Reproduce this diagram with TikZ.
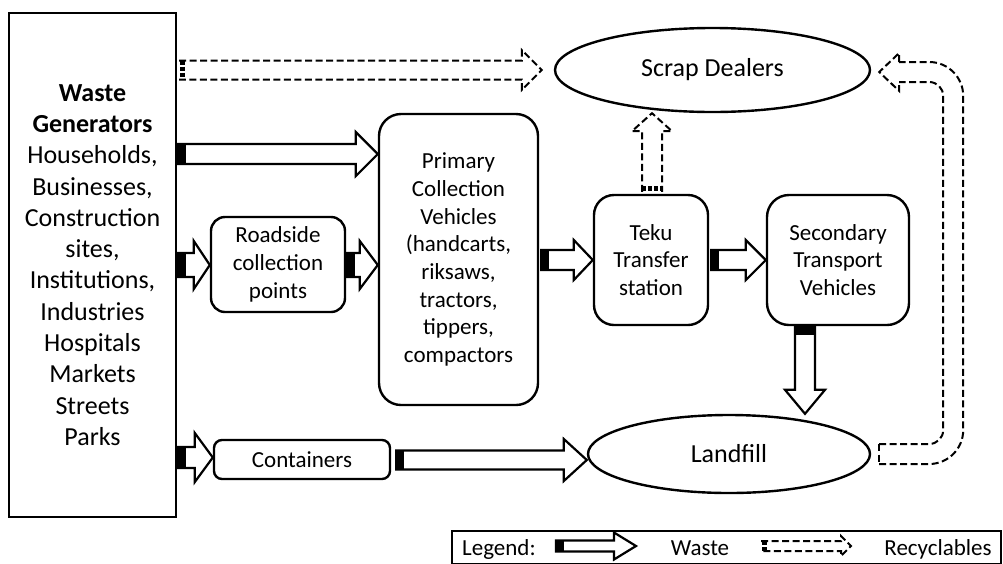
\documentclass[tikz,border=0pt]{standalone}
\usepackage{fontspec}
\setmainfont{Carlito}
\usetikzlibrary{calc,shapes.geometric}
\newcommand\wasteH[5]{%
 \draw[wa] let \p1=(#1), \p2=(#2) in (\x1,\y1+#3pt) -- (\x2-#5pt,\y1+#3pt) -- (\x2-#5pt,\y1+#4pt) -- (\x2,\y1) -- (\x2-#5pt,\y1-#4pt) -- (\x2-#5pt,\y1-#3pt) -- (\x1,\y1-#3pt) -- cycle;
 \fill let \p1=(#1) in (\x1,\y1-#3pt) rectangle (\x1+8pt,\y1+#3pt);}
\newcommand\wasteV[5]{%
 \draw[wa] let \p1=(#1), \p2=(#2) in (\x1-#3pt,\y1) -- (\x1-#3pt,\y2+#5pt) -- (\x1-#4pt,\y2+#5pt) -- (\x1,\y2) -- (\x1+#4pt,\y2+#5pt) -- (\x1+#3pt,\y2+#5pt) -- (\x1+#3pt,\y1) -- cycle;
 \fill let \p1=(#1) in (\x1-#3pt,\y1) rectangle (\x1+#3pt,\y1-8pt);}
\newcommand\recH[5]{%
 \draw[rc] let \p1=(#1), \p2=(#2) in (\x1,\y1+#3pt) -- (\x2-#5pt,\y1+#3pt) -- (\x2-#5pt,\y1+#4pt) -- (\x2,\y1) -- (\x2-#5pt,\y1-#4pt) -- (\x2-#5pt,\y1-#3pt) -- (\x1,\y1-#3pt);
 \draw[line width=5pt,dash pattern=on 4pt off 2pt] let \p1=(#1) in (\x1+3pt,\y1+#3pt) -- (\x1+3pt,\y1-#3pt);}
\newcommand\recU[5]{%
 \draw[rc] let \p1=(#1), \p2=(#2) in (\x1-#3pt,\y1) -- (\x1-#3pt,\y2-#5pt) -- (\x1-#4pt,\y2-#5pt) -- (\x1,\y2) -- (\x1+#4pt,\y2-#5pt) -- (\x1+#3pt,\y2-#5pt) -- (\x1+#3pt,\y1);
 \draw[line width=5pt,dash pattern=on 4pt off 2pt] let \p1=(#1) in (\x1-#3pt,\y1+3pt) -- (\x1+#3pt,\y1+3pt);}
\begin{document}
\begin{tikzpicture}[x=1pt,y=-1pt,
  box/.style={draw,line width=2.4pt,inner sep=0pt,align=center},
  rbox/.style={box,rounded corners=#1},
  ell/.style={draw,ellipse,line width=2.4pt,inner sep=0pt},
  wa/.style={draw,line width=2.2pt,fill=white,line join=miter},
  rc/.style={draw,line width=2pt,dash pattern=on 7pt off 3.5pt},
  big/.style={font=\fontsize{26}{31.3}\selectfont},
  mid/.style={font=\fontsize{23}{27.7}\selectfont},
  legtext/.style={mid,anchor=base,inner sep=0pt},
  ]
\useasboundingbox (0,0) rectangle (1003,563);
% nodes
\node[box,big,minimum width=167pt,minimum height=504pt] (gen) at (92.5,265)
 {\textbf{Waste}\\\textbf{Generators}\\Households,\\Businesses,\\Construction\\sites,\\Institutions,\\Industries\\Hospitals\\Markets\\Streets\\Parks};
\node[rbox=22pt,mid,minimum width=159pt,minimum height=291pt] (prim) at (458.5,259.5)
 {Primary\\Collection\\Vehicles\\(handcarts,\\riksaws,\\tractors,\\tippers,\\compactors};
\node[rbox=14pt,mid,minimum width=134pt,minimum height=95pt] (road) at (278,264.5)
 {Roadside\\collection\\points};
\node[rbox=20pt,mid,minimum width=114pt,minimum height=130pt] (teku) at (651,260)
 {Teku\\Transfer\\station};
\node[rbox=22pt,mid,minimum width=142pt,minimum height=130pt] (sec) at (838,260)
 {Secondary\\Transport\\Vehicles};
\node[rbox=8pt,mid,minimum width=176pt,minimum height=39pt] (cont) at (302,459.5)
 {Containers};
\node[ell,big,minimum width=315pt,minimum height=84pt] (scrap) at (712.5,70) {Scrap Dealers};
\node[ell,big,minimum width=282pt,minimum height=78pt] (land) at (729,454) {Landfill};
% waste arrows
\wasteH{$(gen.east|-0,154)+(1,0)$}{prim.west|-0,154}{10}{22}{22}
\wasteH{$(gen.east|-0,265)+(1,0)$}{road.west|-0,265}{12}{24}{16}
\wasteH{$(road.east|-0,265)+(1,0)$}{prim.west|-0,265}{12}{24}{18}
\wasteH{$(gen.east|-0,457.5)+(1,0)$}{cont.west|-0,457.5}{10.5}{24.5}{18}
\wasteH{$(prim.east|-0,260)+(2,0)$}{teku.west|-0,260}{10}{20}{19}
\wasteH{$(teku.east|-0,260)+(2,0)$}{sec.west|-0,260}{10}{20}{20}
\wasteH{$(cont.east|-0,460)+(5,0)$}{land.west|-0,460}{9.5}{21}{23}
\wasteV{$(sec.south)+(-33,1)$}{$(land.north)+(76,0)$}{10}{20}{24}
% recyclable arrows
\recH{$(gen.east|-0,70)+(2,0)$}{$(scrap.west)+(-12,0)$}{9.5}{20}{20}
\recU{$(teku.north)+(1,-2)$}{teku.north|-scrap.south}{10}{20}{18}
\coordinate (ls) at ($(land.east)+(8,0)$);
\coordinate (lt) at ($(scrap.east)+(8,2)$);
\draw[rc,rounded corners=34pt] ($(ls)+(0,10)$) -- ($(ls)+(84,10)$) -- ($(lt)+(84,-10)$) -- ($(lt)+(20,-10)$);
\draw[rc,rounded corners=14pt] ($(ls)+(0,-10)$) -- ($(ls)+(64,-10)$) -- ($(lt)+(64,10)$) -- ($(lt)+(20,10)$);
\draw[rc] ($(lt)+(20,-10)$) -- ($(lt)+(20,-19)$) -- (lt) -- ($(lt)+(20,19)$) -- ($(lt)+(20,10)$);
\draw[rc] ($(ls)+(0,-10)$) -- ($(ls)+(0,10)$);
% legend
\node[draw,line width=2pt,minimum width=549pt,minimum height=33pt,inner sep=0pt] (leg) at (726.5,547) {};
\node[legtext,anchor=base west] (legt) at (462,555) {Legend:};
\coordinate (la1) at (556,546);
\coordinate (la2) at (636,546);
\wasteH{la1}{la2}{5.5}{13.5}{22}
\node[legtext] (legw) at (700,555) {Waste};
\coordinate (lb1) at (761,546);
\coordinate (lb2) at (851,546);
\recH{lb1}{lb2}{5}{10}{10}
\node[legtext] (legr) at (938,555) {Recyclables};
\end{tikzpicture}
\end{document}
